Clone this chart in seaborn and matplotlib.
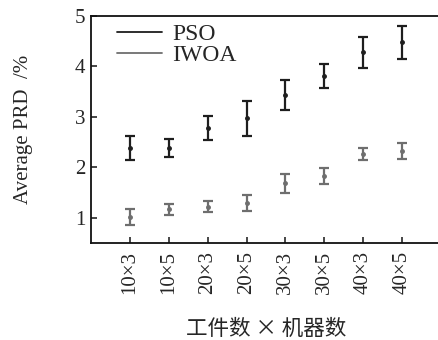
import numpy as np
import matplotlib
matplotlib.use("Agg")
import matplotlib.pyplot as plt
import seaborn as sns
from matplotlib.lines import Line2D

# instance sizes (jobs x machines)
sizes = ["10×3", "10×5", "20×3", "20×5", "30×3", "30×5", "40×3", "40×5"]

pso_mean = [2.39, 2.38, 2.78, 2.97, 3.44, 3.81, 4.28, 4.48]
pso_err = [0.24, 0.18, 0.24, 0.35, 0.30, 0.23, 0.31, 0.33]

iwoa_mean = [1.01, 1.17, 1.22, 1.30, 1.68, 1.82, 2.27, 2.33]
iwoa_err = [0.16, 0.11, 0.11, 0.16, 0.18, 0.16, 0.12, 0.16]

sns.set_style("ticks")
plt.rcParams['font.family'] = ['Liberation Serif', 'Noto Sans CJK SC']
plt.rcParams['xtick.direction'] = 'in'
plt.rcParams['ytick.direction'] = 'in'

fig = plt.figure(figsize=(4.38, 3.4), dpi=100)
ax = fig.add_axes([91/438, 1 - 243/340, 350/438, 227/340])

x = np.arange(len(sizes))
pso_col = "#1e1e1e"
iwoa_col = "#6e6e6e"

ax.errorbar(x, pso_mean, yerr=pso_err, fmt="o", ms=2.5, color=pso_col,
            ecolor=pso_col, elinewidth=1.6, capsize=3.5, capthick=1.6)
ax.errorbar(x, iwoa_mean, yerr=iwoa_err, fmt="o", ms=2.5, color=iwoa_col,
            ecolor=iwoa_col, elinewidth=1.6, capsize=3.5, capthick=1.6)

ax.set_xlim(-1, 8)
ax.set_ylim(0.5, 5)
ax.set_xticks(x)
ax.set_xticklabels(sizes, rotation=90, fontsize=15)
ax.set_yticks([1, 2, 3, 4, 5])
ax.tick_params(axis="y", labelsize=15, length=4, width=1.2, pad=4)
ax.tick_params(axis="x", length=4, width=1.2, pad=6)
for s in ["left", "bottom", "top"]:
    ax.spines[s].set_linewidth(1.3)
    ax.spines[s].set_color("#111111")
ax.spines["right"].set_visible(False)

ax.set_ylabel("Average PRD  /%", fontsize=15, labelpad=30)
ax.set_xlabel("工件数 × 机器数", fontsize=15.5, labelpad=17,
              family=['Noto Sans CJK SC', 'DejaVu Sans'])

handles = [Line2D([0], [0], color=pso_col, lw=1.3),
           Line2D([0], [0], color=iwoa_col, lw=1.3)]
ax.legend(handles, ["PSO", "IWOA"], loc="upper left", frameon=False,
          bbox_to_anchor=(0.04, 1.02),
          fontsize=17, handlelength=1.9, borderaxespad=0.1, labelspacing=0.0,
          handletextpad=0.45)

fig.savefig("out.png", dpi=100)
